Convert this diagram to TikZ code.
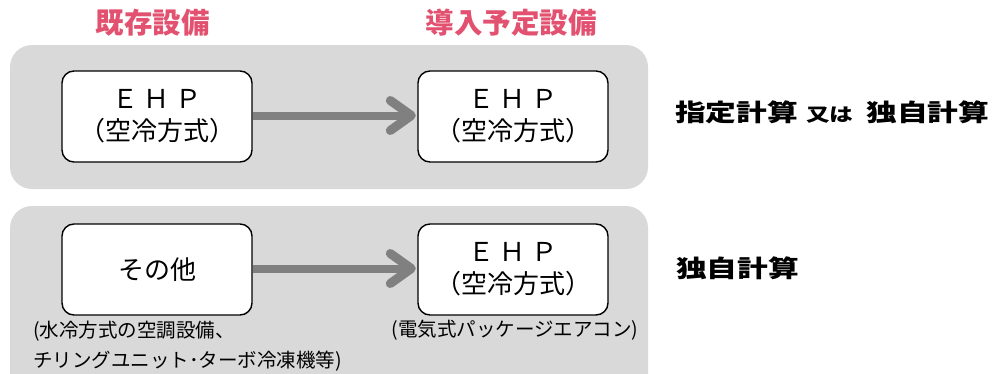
\documentclass[tikz,border=0pt]{standalone}
\usepackage{fontspec}
\setmainfont{Noto Sans CJK JP}
\newfontfamily\widefont[FakeStretch=1.28]{Noto Sans CJK JP}
\usetikzlibrary{calc}
\definecolor{pinktitle}{RGB}{226,82,112}
\definecolor{panelgrey}{RGB}{217,217,217}
\definecolor{arrowgrey}{RGB}{128,128,128}
\tikzset{
  panel/.style={fill=panelgrey, draw=none, rounded corners=22pt},
  eqbox/.style={draw=black, line width=1.4pt, fill=white, rounded corners=12pt,
    minimum width=190pt, minimum height=91pt, align=center, inner sep=0pt,
    font=\fontsize{26}{33}\selectfont},
  title/.style={text=pinktitle, font=\fontsize{28.5}{30}\selectfont\bfseries, anchor=center, inner sep=0pt},
  calclabel/.style={text=black, font=\widefont\fontsize{24}{30}\selectfont\bfseries, anchor=west, inner sep=0pt},
  note/.style={font=\fontsize{19.5}{30}\selectfont, align=left, inner sep=0pt},
  arrline/.style={draw=arrowgrey, line width=8pt},
  barb/.style={draw=arrowgrey, line width=9pt, line cap=round, line join=round}
}
\newcommand{\ehp}{Ｅ\hspace{6pt}Ｈ\hspace{6pt}Ｐ\\[-1pt]（空冷方式）}
\begin{document}
\begin{tikzpicture}[x=1pt,y=-1pt]
\useasboundingbox (0,0) rectangle (1002,373);
% panels
\fill[panel] (10,45) rectangle (648,189);
\fill[panel] (10,206) rectangle (648,400);
% titles
\node[title] (t1) at (152.5,23) {既存設備};
\node[title] (t2) at (511,23) {導入予定設備};
% upper row
\node[eqbox] (a1) at (157,116.5) {\ehp};
\node[eqbox] (b1) at (513,116.5) {\ehp};
\coordinate (tip1) at ($(b1.west)+(-6,-1)$);
\draw[arrline] ($(a1.east)+(0,-1)$) -- ($(tip1)+(-4,0)$);
\draw[barb] ($(tip1)+(-21,-15)$) -- (tip1) -- ($(tip1)+(-21,15)$);
\node[calclabel] (c1) at (675,112) {指定計算\hspace{8pt}{\fontsize{18.5}{30}\selectfont 又は}\hspace{13pt}独自計算};
% lower row
\node[eqbox] (a2) at (157,269.5) {その他};
\node[eqbox] (b2) at (513,269.5) {\ehp};
\coordinate (tip2) at ($(b2.west)+(-6,-1)$);
\draw[arrline] ($(a2.east)+(0,-1)$) -- ($(tip2)+(-4,0)$);
\draw[barb] ($(tip2)+(-21,-15)$) -- (tip2) -- ($(tip2)+(-21,15)$);
\node[calclabel] (c2) at (676,268) {独自計算};
\node[note, anchor=north west] (n1) at (33,321) {(水冷方式の空調設備、\\チリングユニット･ターボ冷凍機等)};
\node[note, anchor=north] (n2) at (515,320) {(電気式パッケージエアコン)};
\end{tikzpicture}
\end{document}
